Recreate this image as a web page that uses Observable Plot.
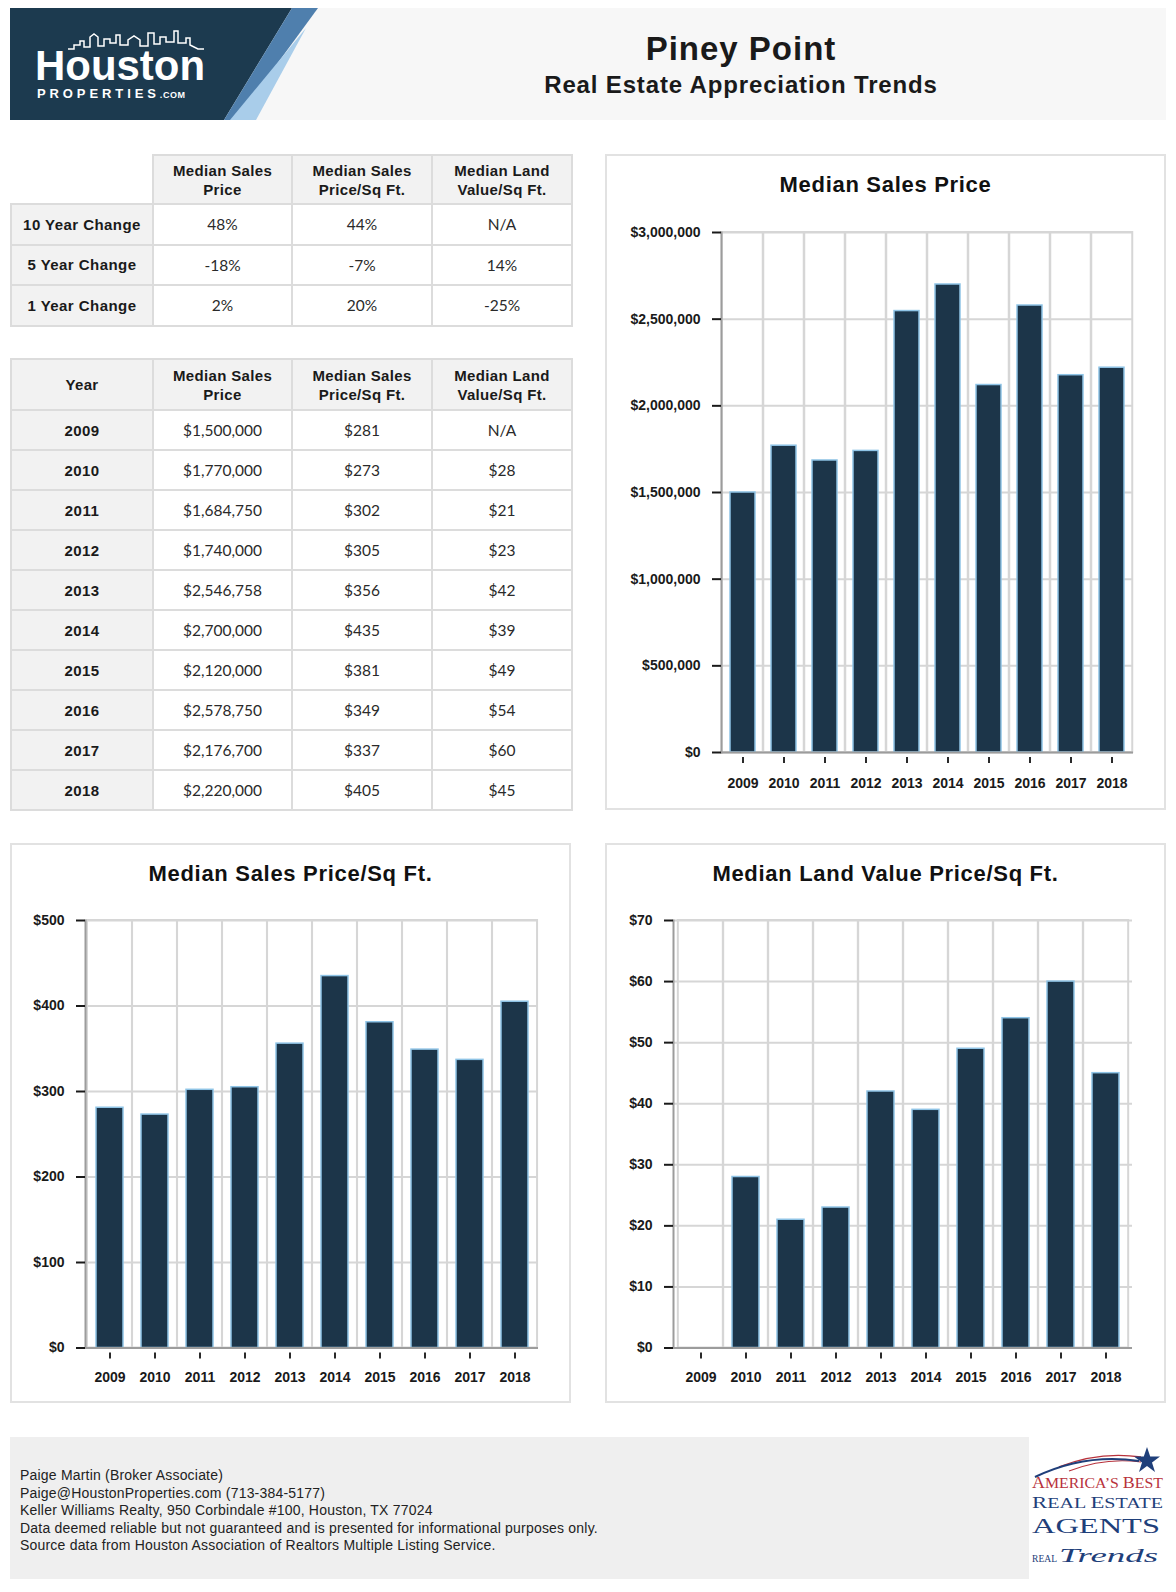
<!DOCTYPE html>
<html>
<head>
<meta charset="utf-8">
<script src="https://cdn.jsdelivr.net/npm/d3@7"></script>
<script src="https://cdn.jsdelivr.net/npm/@observablehq/plot@0.6"></script>
<style>
  html, body { margin: 0; padding: 0; background: #fff; }
  body { position: relative; width: 1176px; height: 1592px; overflow: hidden; font-family: "Liberation Sans", Arial, sans-serif; color: #1a1a1a; }
  .abs { position: absolute; }
  #header { left: 10px; top: 8px; width: 1156px; height: 112px; background: #f7f7f7; }
  #title { left: 441px; top: 29px; width: 600px; text-align: center; font-size: 33px; font-weight: bold; letter-spacing: 1px; line-height: 40px; }
  #subtitle { left: 441px; top: 70px; width: 600px; text-align: center; font-size: 24px; font-weight: bold; letter-spacing: 0.85px; line-height: 30px; }
  table.data { position: absolute; border-collapse: collapse; table-layout: fixed; }
  table.data td, table.data th { border: 2px solid #dcdcdc; text-align: center; vertical-align: middle; padding: 0; }
  table.data th { background: #f2f2f2; font-weight: bold; font-size: 15px; letter-spacing: 0.35px; line-height: 19px; color: #1a1a1a; }
  table.data th.blank { background: #fff; border-top: none; border-left: none; }
  table.data td.lab { background: #f2f2f2; font-weight: bold; font-size: 15px; letter-spacing: 0.45px; color: #1a1a1a; }
  table.data td.val { background: #fff; font-family: Lato, "Liberation Sans", sans-serif; font-size: 15.5px; color: #2a2a2a; }
  .panel { position: absolute; background: #fff; box-shadow: inset 0 0 0 2px #e2e2e2; }
  .panel svg { position: absolute; left: 0; top: 0; }
  .ptitle { position: absolute; left: 0; width: 100%; top: 16px; text-align: center; font-size: 22px; font-weight: bold; letter-spacing: 0.7px; line-height: 30px; color: #111; z-index: 2; }
  #footer { left: 10px; top: 1437px; width: 1156px; height: 142px; background: #efefef; }
  #footer-text { left: 20px; top: 1467px; font-size: 14px; letter-spacing: 0.2px; line-height: 17.5px; color: #222; }
</style>
</head>
<body>
<div id="header" class="abs"></div>
<svg class="abs" style="left:0;top:0" width="330" height="125" viewBox="0 0 330 125">
  <polygon points="10,8 292,8 224,120 10,120" fill="#1c3a4f"/>
  <polygon points="292,8 318,8 236,120 224,120" fill="#4f7fad"/>
  <polygon points="306,28 256,120 230,120 " fill="#a9cdea"/>
  <path d="M68 49 L74 49 L74 45 L80 45 L80 41 L84 41 L84 47 L90 47 L90 37 L94 34 L98 37 L98 46 L104 46 L104 39 L110 39 L110 43 L116 43 L116 35 L120 35 L120 45 L128 45 L128 40 L134 36 L140 40 L140 46 L148 46 L148 33 L154 33 L154 44 L160 44 L160 37 L166 37 L166 42 L174 42 L174 31 L178 31 L178 43 L186 43 L186 38 L190 38 L190 45 L198 49 L204 49" fill="none" stroke="#fff" stroke-width="1.5"/>
  <text x="35" y="80" fill="#fff" font-family="Liberation Sans, Arial, sans-serif" font-weight="bold" font-size="43" textLength="170" lengthAdjust="spacingAndGlyphs">Houston</text>
  <text x="37" y="98" fill="#fff" font-family="Liberation Sans, Arial, sans-serif" font-weight="bold" font-size="13" letter-spacing="3.9">PROPERTIES<tspan font-size="9" letter-spacing="0.6">.COM</tspan></text>
</svg>
<div id="title" class="abs">Piney Point</div>
<div id="subtitle" class="abs">Real Estate Appreciation Trends</div>

<table id="t1" class="data" style="left:10px;top:154px;"></table>
<table id="t2" class="data" style="left:10px;top:358px;"></table>

<div id="p1" class="panel" style="left:605px;top:154px;width:561px;height:656px;"><div class="ptitle">Median Sales Price</div></div>
<div id="p2" class="panel" style="left:10px;top:843px;width:561px;height:560px;"><div class="ptitle">Median Sales Price/Sq Ft.</div></div>
<div id="p3" class="panel" style="left:605px;top:843px;width:561px;height:560px;"><div class="ptitle">Median Land Value Price/Sq Ft.</div></div>

<div id="footer" class="abs"></div>
<div id="footer-text" class="abs">
  Paige Martin (Broker Associate)<br>
  Paige@HoustonProperties.com (713-384-5177)<br>
  Keller Williams Realty, 950 Corbindale #100, Houston, TX 77024<br>
  Data deemed reliable but not guaranteed and is presented for informational purposes only.<br>
  Source data from Houston Association of Realtors Multiple Listing Service.
</div>
<svg class="abs" style="left:1029px;top:1437px" width="137" height="142" viewBox="0 0 137 142">
  <rect x="0" y="0" width="137" height="142" fill="#fff"/>
  <path d="M30 30 Q 70 14 112 20" fill="none" stroke="#b8323c" stroke-width="1.4"/>
  <path d="M40 34 Q 76 20 112 25" fill="none" stroke="#b8323c" stroke-width="1.1"/>
  <path d="M6 40 Q 56 16 110 24" fill="none" stroke="#1f3f7a" stroke-width="2.2"/>
  <polygon points="118,10 121.2,19.5 131,19.5 123,25.5 126,35 118,29 110,35 113,25.5 105,19.5 114.8,19.5" fill="#1f3f7a"/>
  <text x="3" y="51" fill="#b8323c" font-family="Liberation Serif, serif" font-size="15" textLength="131" lengthAdjust="spacingAndGlyphs"><tspan font-size="17">A</tspan>MERICA’S <tspan font-size="17">B</tspan>EST</text>
  <text x="3" y="71" fill="#1f3f7a" font-family="Liberation Serif, serif" font-size="15" textLength="131" lengthAdjust="spacingAndGlyphs"><tspan font-size="17">R</tspan>EAL <tspan font-size="17">E</tspan>STATE</text>
  <text x="3" y="96" fill="#1f3f7a" font-family="Liberation Serif, serif" font-size="22" textLength="128" lengthAdjust="spacingAndGlyphs">AGENTS</text>
  <text x="3" y="125" fill="#1f3f7a" font-family="Liberation Serif, serif" font-size="11" textLength="25" lengthAdjust="spacingAndGlyphs">REAL</text>
  <text x="30" y="125" fill="#1f3f7a" font-family="Liberation Serif, serif" font-style="italic" font-size="19" textLength="99" lengthAdjust="spacingAndGlyphs">Trends</text>
</svg>

<script>
// ---------- data ----------
const years = [2009, 2010, 2011, 2012, 2013, 2014, 2015, 2016, 2017, 2018];
const medianSalesPrice = [1500000, 1770000, 1684750, 1740000, 2546758, 2700000, 2120000, 2578750, 2176700, 2220000];
const medianPricePerSqFt = [281, 273, 302, 305, 356, 435, 381, 349, 337, 405];
const medianLandPerSqFt = [null, 28, 21, 23, 42, 39, 49, 54, 60, 45];

const changePeriods = ["10 Year Change", "5 Year Change", "1 Year Change"];
const changeSalesPrice = ["48%", "-18%", "2%"];
const changePricePerSqFt = ["44%", "-7%", "20%"];
const changeLandPerSqFt = ["N/A", "14%", "-25%"];

const columnHeads = [["Median Sales", "Price"], ["Median Sales", "Price/Sq Ft."], ["Median Land", "Value/Sq Ft."]];

const priceTicks = [0, 500000, 1000000, 1500000, 2000000, 2500000, 3000000];
const sqftTicks = [0, 100, 200, 300, 400, 500];
const landTicks = [0, 10, 20, 30, 40, 50, 60, 70];

// ---------- tables ----------
const colWidths = [142, 139, 140, 140];
function makeTable(id, firstHead, rows, headH, rowH) {
  const t = document.getElementById(id);
  const cg = document.createElement("colgroup");
  colWidths.forEach(w => { const c = document.createElement("col"); c.style.width = w + "px"; cg.appendChild(c); });
  t.appendChild(cg);
  t.style.width = d3.sum(colWidths) + "px";
  const hr = document.createElement("tr");
  hr.style.height = headH + "px";
  const h0 = document.createElement("th");
  if (firstHead == null) h0.className = "blank"; else h0.textContent = firstHead;
  hr.appendChild(h0);
  columnHeads.forEach(h => { const th = document.createElement("th"); th.innerHTML = h[0] + "<br>" + h[1]; hr.appendChild(th); });
  t.appendChild(hr);
  rows.forEach(r => {
    const tr = document.createElement("tr");
    tr.style.height = rowH + "px";
    r.forEach((v, i) => { const td = document.createElement("td"); td.className = i === 0 ? "lab" : "val"; td.textContent = v; tr.appendChild(td); });
    t.appendChild(tr);
  });
}
makeTable("t1", null, changePeriods.map((p, i) => [p, changeSalesPrice[i], changePricePerSqFt[i], changeLandPerSqFt[i]]), 49, 40.5);
const fmtComma = d3.format(",");
makeTable("t2", "Year", years.map((y, i) => [
  String(y),
  "$" + fmtComma(medianSalesPrice[i]),
  "$" + medianPricePerSqFt[i],
  medianLandPerSqFt[i] == null ? "N/A" : "$" + medianLandPerSqFt[i]
]), 51, 40);

// ---------- charts ----------
function barChart(panelId, cfg) {
  const {values, ticks, fmt, width, height, ml, mr, mt, mb, labelPad} = cfg;
  const data = years.map((y, i) => ({year: String(y), value: values[i]}));
  const yMax = ticks[ticks.length - 1];
  const p = 0.4;
  const step = (width - ml - mr) / years.length;
  const cellInset = -step * p / 2;
  const svg = Plot.plot({
    width, height,
    marginLeft: ml, marginRight: mr, marginTop: mt, marginBottom: mb,
    style: {fontFamily: '"Liberation Sans", Arial, sans-serif', fontSize: "14px", fontWeight: "bold", color: "#1a1a1a", background: "transparent", overflow: "visible"},
    x: {type: "band", domain: data.map(d => d.year), paddingInner: p, paddingOuter: p / 2, axis: null},
    y: {domain: [0, yMax], axis: null},
    marks: [
      Plot.barY(data, {x: "year", y1: () => 0, y2: () => yMax, insetLeft: cellInset, insetRight: cellInset, fill: "none", stroke: "#d6d6d6", strokeWidth: 2}),
      Plot.ruleY(ticks, {stroke: "#d6d6d6", strokeWidth: 2}),
      Plot.barY(data.filter(d => d.value != null), {x: "year", y: "value", fill: "#1c3549", stroke: "#8fc4e6", strokeWidth: 1.5}),
      Plot.ruleY([0], {stroke: "#9c9c9c", strokeWidth: 2}),
      Plot.frame({anchor: "left", stroke: "#9c9c9c", strokeWidth: 2}),
      Plot.axisY(ticks, {tickSize: 9, tickPadding: 12, tickFormat: fmt, strokeWidth: 2, label: null}),
      Plot.axisX({tickSize: 0, tickPadding: labelPad, label: null}),
      Plot.ruleX(data, {x: "year", y1: () => 0, y2: () => 0, insetTop: 5, insetBottom: -11, stroke: "#2a2a2a", strokeWidth: 2})
    ]
  });
  document.getElementById(panelId).appendChild(svg);
}

barChart("p1", {values: medianSalesPrice, ticks: priceTicks, fmt: d => "$" + fmtComma(d),
  width: 561, height: 656, ml: 116, mr: 33, mt: 78, mb: 58, labelPad: 26});
barChart("p2", {values: medianPricePerSqFt, ticks: sqftTicks, fmt: d => "$" + d,
  width: 561, height: 560, ml: 75, mr: 33, mt: 77, mb: 55.5, labelPad: 24});
barChart("p3", {values: medianLandPerSqFt, ticks: landTicks, fmt: d => "$" + d,
  width: 561, height: 560, ml: 68, mr: 34, mt: 77, mb: 55.5, labelPad: 24});
</script>
</body>
</html>
